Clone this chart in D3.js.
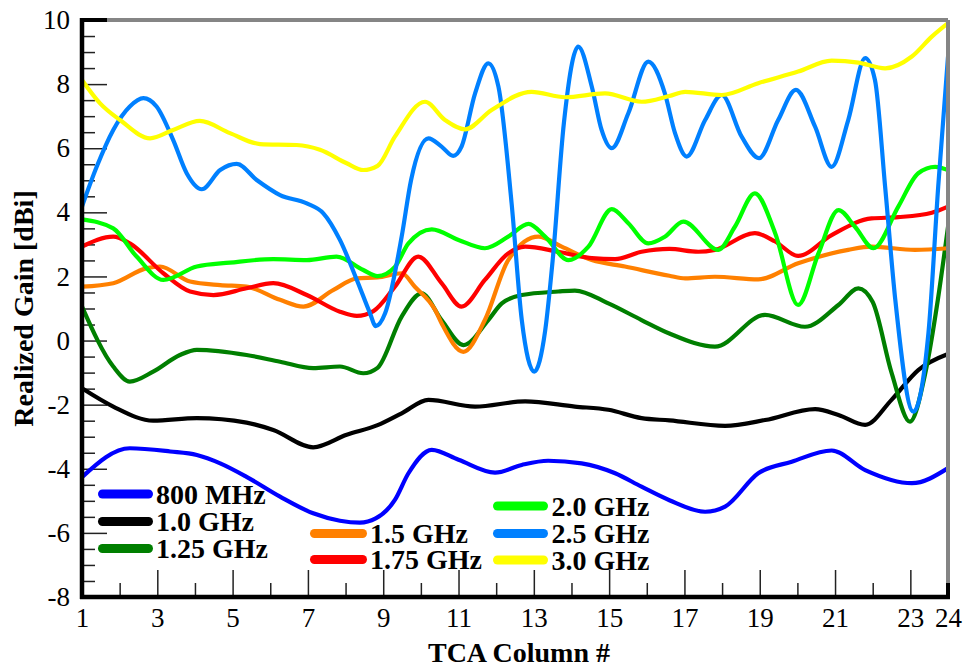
<!DOCTYPE html>
<html>
<head>
<meta charset="utf-8">
<script src="https://cdn.jsdelivr.net/npm/d3@7"></script>
<style>
  html, body { margin: 0; padding: 0; background: #fff; }
  svg { display: block; }
  text { font-family: "Liberation Serif", "Times New Roman", serif; fill: #000; }
</style>
</head>
<body>
<svg id="chart" width="966" height="669"></svg>
<script>
// Realized gain [dBi] versus TCA column, one curve per frequency.
// Each series: [column, gain] samples along the curve.
const gain800MHz = [[1,-4.26],[2.27,-3.36],[3.34,-3.46],[4.05,-3.57],[4.67,-3.83],[5.37,-4.25],[6.26,-4.87],[7.14,-5.39],[7.85,-5.62],[8.38,-5.68],[8.8,-5.55],[9.31,-4.97],[9.67,-4.14],[10.29,-3.41],[11.0,-3.72],[11.97,-4.12],[12.68,-3.88],[13.38,-3.75],[14.27,-3.83],[15.16,-4.14],[15.86,-4.56],[16.6,-4.98],[17.55,-5.34],[18.08,-5.18],[18.96,-4.14],[19.85,-3.78],[20.91,-3.43],[21.8,-4.04],[23.04,-4.45],[24,-3.98]];
const gain1000MHz = [[1,-1.49],[1.83,-2.06],[2.89,-2.5],[4.05,-2.42],[5.37,-2.56],[6.08,-2.79],[7.14,-3.33],[8.03,-2.94],[8.85,-2.64],[9.49,-2.27],[10.2,-1.85],[11.44,-2.06],[12.77,-1.9],[14.09,-2.06],[14.98,-2.16],[15.86,-2.42],[16.6,-2.49],[18.08,-2.66],[19.14,-2.48],[20.47,-2.14],[21.09,-2.32],[21.8,-2.63],[22.5,-1.85],[23.21,-0.92],[24,-0.42]];
const gain1250MHz = [[1,1.06],[1.83,-0.81],[2.27,-1.28],[2.89,-0.97],[3.6,-0.45],[4.05,-0.29],[5.37,-0.45],[6.26,-0.66],[7.14,-0.86],[7.85,-0.81],[8.47,-1.02],[8.85,-0.85],[9.49,0.75],[10.02,1.47],[10.55,0.64],[11.13,-0.14],[11.79,0.64],[12.15,1.16],[12.68,1.42],[13.65,1.53],[14.09,1.56],[14.98,1.16],[15.86,0.64],[16.6,0.22],[17.81,-0.19],[19.14,0.8],[20.2,0.43],[21.09,1.11],[21.62,1.63],[22.0,1.2],[22.5,-1.0],[22.99,-2.53],[23.4,-1.0],[23.73,1.27],[24,3.55]];
const gain1500MHz = [[1,1.68],[1.83,1.79],[2.72,2.26],[3.07,2.31],[3.87,1.84],[4.67,1.73],[5.37,1.68],[6.26,1.27],[6.88,1.06],[7.68,1.58],[8.3,1.94],[8.85,1.97],[9.49,2.1],[9.84,1.68],[10.38,0.95],[10.55,0.54],[11.13,-0.35],[11.7,0.64],[12.32,2.51],[13.12,3.24],[13.74,2.93],[14.54,2.51],[15.42,2.31],[16.6,2.02],[17.02,1.94],[17.81,1.99],[18.96,1.91],[20.02,2.41],[21.35,2.83],[21.97,2.93],[23.12,2.83],[24,2.88]];
const gain1750MHz = [[1,2.93],[1.83,3.24],[2.27,3.03],[3.16,2.1],[3.87,1.53],[4.49,1.42],[5.37,1.63],[6.08,1.79],[6.97,1.42],[7.85,0.9],[8.3,0.77],[8.74,0.92],[9.31,1.68],[9.93,2.62],[10.55,1.79],[11.08,1.06],[11.7,1.89],[12.32,2.72],[12.77,2.93],[13.65,2.77],[14.54,2.57],[15.16,2.54],[15.86,2.77],[16.6,2.86],[17.37,2.77],[17.81,2.83],[18.87,3.35],[19.41,3.09],[20.02,2.64],[20.91,3.29],[21.97,3.81],[22.68,3.85],[23.57,3.99],[24,4.18]];
const gain2000MHz = [[1,3.78],[1.83,3.5],[2.45,2.62],[3.16,1.89],[4.05,2.31],[4.93,2.43],[6.08,2.54],[6.97,2.51],[7.76,2.62],[8.47,2.2],[8.85,2.01],[9.31,2.3],[9.67,3.03],[10.29,3.47],[11.0,3.14],[11.7,2.88],[12.32,3.24],[12.86,3.64],[13.3,3.24],[13.92,2.51],[14.45,2.93],[15.07,4.1],[15.51,3.66],[16.04,3.03],[16.48,3.24],[16.97,3.71],[17.9,2.83],[18.34,3.55],[18.87,4.59],[19.41,3.35],[20.02,1.11],[20.56,2.72],[21.09,4.07],[21.53,3.55],[22.02,2.88],[22.68,4.18],[23.21,5.22],[23.66,5.42],[24,5.32]];
const gain2500MHz = [[1,4.18],[1.39,5.42],[1.83,6.57],[2.27,7.3],[2.63,7.56],[2.98,7.3],[3.42,6.26],[3.78,5.22],[4.18,4.72],[4.67,5.32],[5.11,5.51],[5.64,5.01],[6.26,4.54],[6.97,4.28],[7.41,3.97],[7.85,3.14],[8.3,1.89],[8.65,0.85],[8.8,0.45],[9.05,0.85],[9.49,3.24],[9.74,5.01],[10.2,6.31],[10.55,6.05],[10.86,5.76],[11.08,6.05],[11.44,7.71],[11.79,8.65],[12.06,7.92],[12.41,4.28],[12.68,0.64],[13.01,-0.97],[13.3,0.3],[13.5,2.5],[13.8,6.8],[14.18,9.17],[14.54,7.92],[14.8,6.57],[15.07,6.0],[15.51,7.09],[16.04,8.7],[16.48,7.71],[16.75,6.47],[17.06,5.74],[17.55,6.88],[17.99,7.66],[18.52,6.36],[18.98,5.69],[19.49,6.88],[19.96,7.82],[20.47,6.67],[20.91,5.42],[21.35,6.88],[21.8,8.81],[22.06,8.13],[22.33,4.8],[22.6,1.27],[23.08,-2.22],[23.48,0.23],[23.74,4.8],[24,8.86]];
const gain3000MHz = [[1,8.13],[1.48,7.4],[2.01,6.88],[2.81,6.31],[3.42,6.57],[4.13,6.85],[4.93,6.47],[5.73,6.13],[6.7,6.1],[7.32,5.95],[8.03,5.53],[8.47,5.32],[8.85,5.45],[9.31,6.36],[10.11,7.45],[10.64,6.88],[11.17,6.59],[11.88,7.19],[12.94,7.76],[13.83,7.59],[14.89,7.71],[15.86,7.45],[16.6,7.63],[17.02,7.76],[17.99,7.66],[18.96,8.03],[20.02,8.39],[20.91,8.73],[21.62,8.67],[22.33,8.49],[23.04,8.86],[23.57,9.48],[24,9.9]];

const seriesNames = ["800 MHz","1.0 GHz","1.25 GHz","1.5 GHz","1.75 GHz","2.0 GHz","2.5 GHz","3.0 GHz"];
const seriesColors = ["#0000ff","#000000","#007f00","#ff8000","#ff0000","#00ff00","#0080ff","#ffff00"];
const seriesData = [gain800MHz,gain1000MHz,gain1250MHz,gain1500MHz,gain1750MHz,gain2000MHz,gain2500MHz,gain3000MHz];

const xMajorTicks = [1,3,5,7,9,11,13,15,17,19,21,23];
const xMinorTicks = [2,4,6,8,10,12,14,16,18,20,22,24];
const xTickLabels = [1,3,5,7,9,11,13,15,17,19,21,23,24];
const yMajorTicks = [-8,-6,-4,-2,0,2,4,6,8,10];
const yMinorTicks = d3.range(-7.5, 10, 0.5).filter(v => v % 2 !== 0);

const xTitle = "TCA Column #";
const yTitle = "Realized Gain [dBi]";

const svg = d3.select("#chart");
const plotLeft = 82, plotRight = 948, plotTop = 20, plotBottom = 597;

const x = d3.scaleLinear().domain([1, 24]).range([plotLeft, plotRight]);
const y = d3.scaleLinear().domain([-8, 10]).range([plotBottom, plotTop]);

// Tick marks point inward from the left and bottom axes
function tickGroup(axis, transform) {
  const g = svg.append("g").attr("transform", transform).call(axis);
  g.select(".domain").remove();
  g.selectAll(".tick line").attr("stroke", "#222").attr("stroke-width", 1.5);
  return g;
}
tickGroup(d3.axisBottom(x).tickValues(xMajorTicks).tickSize(-27).tickFormat(""), `translate(0,${plotBottom})`);
tickGroup(d3.axisBottom(x).tickValues(xMinorTicks).tickSize(-14).tickFormat(""), `translate(0,${plotBottom})`);
tickGroup(d3.axisLeft(y).tickValues(yMajorTicks).tickSize(-25).tickFormat(""), `translate(${plotLeft},0)`);
tickGroup(d3.axisLeft(y).tickValues(yMinorTicks).tickSize(-13).tickFormat(""), `translate(${plotLeft},0)`);

const xLab = tickGroup(d3.axisBottom(x).tickValues(xTickLabels).tickSize(0).tickPadding(11).tickFormat(d => String(d)), `translate(0,${plotBottom})`);
xLab.selectAll("text").attr("font-size", 27).attr("font-family", "'Liberation Serif', serif").attr("fill", "#111");
const yLab = tickGroup(d3.axisLeft(y).tickValues(yMajorTicks).tickSize(0).tickPadding(12).tickFormat(d => String(d)), `translate(${plotLeft},0)`);
yLab.selectAll("text").attr("font-size", 27).attr("font-family", "'Liberation Serif', serif").attr("fill", "#111");

// Curves
const line = d3.line()
  .x(d => x(d[0]))
  .y(d => y(d[1]))
  .curve(d3.curveMonotoneX);

svg.append("g").selectAll("path")
  .data(seriesData)
  .join("path")
  .attr("d", d => line(d))
  .attr("fill", "none")
  .attr("stroke", (d, i) => seriesColors[i])
  .attr("stroke-width", 4.2)
  .attr("stroke-linejoin", "round");

// Frame: grey top/right, black left/bottom
svg.append("line").attr("x1", plotLeft).attr("x2", plotRight).attr("y1", plotTop).attr("y2", plotTop)
  .attr("stroke", "#858585").attr("stroke-width", 4);
svg.append("line").attr("x1", plotRight).attr("x2", plotRight).attr("y1", plotTop).attr("y2", plotBottom)
  .attr("stroke", "#858585").attr("stroke-width", 4);
svg.append("line").attr("x1", plotLeft).attr("x2", plotLeft).attr("y1", plotTop - 2).attr("y2", plotBottom + 2)
  .attr("stroke", "#000").attr("stroke-width", 4.5);
svg.append("line").attr("x1", plotLeft - 2).attr("x2", plotRight + 2).attr("y1", plotBottom).attr("y2", plotBottom)
  .attr("stroke", "#000").attr("stroke-width", 4.5);
// black end pieces where the frame meets the last ticks
svg.append("line").attr("x1", plotLeft).attr("x2", x(1) + 25).attr("y1", plotTop).attr("y2", plotTop)
  .attr("stroke", "#000").attr("stroke-width", 4);
svg.append("line").attr("x1", plotRight).attr("x2", plotRight).attr("y1", plotBottom - 14).attr("y2", plotBottom)
  .attr("stroke", "#000").attr("stroke-width", 4);

// Axis titles
svg.append("text")
  .attr("x", 519).attr("y", 662)
  .attr("text-anchor", "middle")
  .attr("font-size", 28).attr("font-weight", "bold")
  .text(xTitle);
svg.append("text")
  .attr("transform", `translate(33,${(plotTop + plotBottom) / 2}) rotate(-90)`)
  .attr("text-anchor", "middle")
  .attr("font-size", 28).attr("font-weight", "bold")
  .text(yTitle);

// Legend, three columns
const legendColumns = [
  { x1: 102.5, x2: 148.5, tx: 156, ys: [494, 521.5, 548.5], items: [0, 1, 2] },
  { x1: 314.5, x2: 362.5, tx: 370, ys: [533.5, 559.5], items: [3, 4] },
  { x1: 497.5, x2: 543.5, tx: 551.5, ys: [506, 533.5, 560], items: [5, 6, 7] }
];
const legend = svg.append("g");
legendColumns.forEach(col => {
  col.items.forEach((idx, k) => {
    legend.append("line")
      .attr("x1", col.x1).attr("x2", col.x2)
      .attr("y1", col.ys[k]).attr("y2", col.ys[k])
      .attr("stroke", seriesColors[idx]).attr("stroke-width", 9)
      .attr("stroke-linecap", "round");
    legend.append("text")
      .attr("x", col.tx).attr("y", col.ys[k] + 9.5)
      .attr("font-size", 28).attr("font-weight", "bold")
      .text(seriesNames[idx]);
  });
});
</script>
</body>
</html>
